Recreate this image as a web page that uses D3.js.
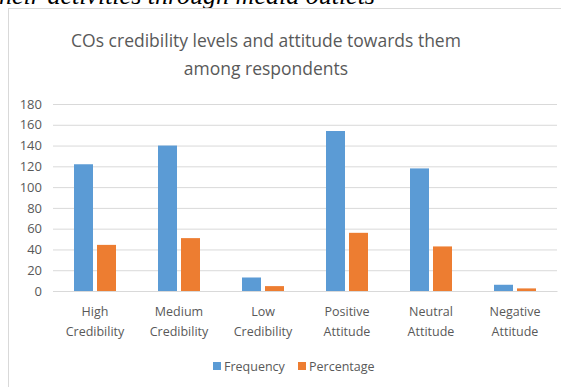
<!DOCTYPE html>
<html><head><meta charset="utf-8">
<script src="https://cdn.jsdelivr.net/npm/d3@7"></script>
<style>
html,body{margin:0;padding:0;background:#fff;}
svg{display:block;}
</style></head>
<body>
<svg id="chart" width="561" height="387"></svg>
<script>
const categories = [["High","Credibility"],["Medium","Credibility"],["Low","Credibility"],["Positive","Attitude"],["Neutral","Attitude"],["Negative","Attitude"]];
const seriesNames = ["Frequency","Percentage"];
const frequency = [122,140,13,154,118,6];
const percentage = [44.4,50.9,4.7,56,42.9,2.5];
const yTicks = [0,20,40,60,80,100,120,140,160,180];
const colors = ["#5B9BD5","#ED7D31"];
const titleLines = ["COs credibility levels and attitude towards them","among respondents"];

const svg = d3.select("#chart");
const font = "'Open Sans', sans-serif";

// cut-off document text above the chart
svg.append("text").attr("x",375).attr("y",4).attr("text-anchor","end")
  .attr("font-family","'Liberation Serif', serif").attr("font-style","italic")
  .attr("font-size",26).attr("fill","#000").text("their activities through media outlets");

// chart frame
svg.append("rect").attr("x",8.5).attr("y",8.5).attr("width",600).attr("height",400)
  .attr("fill","#fff").attr("stroke","#d9d9d9").attr("stroke-width",1);

// title
svg.append("g").selectAll("text").data(titleLines).join("text")
  .attr("x",266).attr("y",(d,i)=>47+i*28).attr("text-anchor","middle")
  .attr("font-family",font).attr("font-size",17.5).attr("fill","#595959").text(d=>d);

const L=53, R=557, T=104, B=291;
const x0 = d3.scaleBand().domain(d3.range(categories.length)).range([L,R]).paddingInner(0.5).paddingOuter(0.25);
const x1 = d3.scaleBand().domain(seriesNames).range([0,x0.bandwidth()]).paddingInner(0.174);
const y = d3.scaleLinear().domain([0,180]).range([B,T]);

// grid
const yAxis = d3.axisLeft(y).tickValues(yTicks).tickSize(-(R-L)).tickPadding(11);
const gy = svg.append("g").attr("transform",`translate(${L},0)`).call(yAxis);
gy.select(".domain").remove();
gy.selectAll(".tick line").attr("stroke","#d9d9d9").attr("stroke-width",1);
gy.selectAll(".tick text").attr("font-family",font).attr("font-size",13).attr("fill","#595959");

// bars
const data = categories.map((c,i)=>({i, vals:[frequency[i],percentage[i]]}));
const groups = svg.append("g").selectAll("g").data(data).join("g")
  .attr("transform",d=>`translate(${x0(d.i)},0)`);
groups.selectAll("rect").data(d=>d.vals.map((v,k)=>({k,v}))).join("rect")
  .attr("x",d=>x1(seriesNames[d.k])).attr("width",x1.bandwidth())
  .attr("y",d=>y(d.v)).attr("height",d=>y(0)-y(d.v)).attr("fill",d=>colors[d.k]);

// x axis
const xAxis = d3.axisBottom(x0).tickSize(0).tickFormat(()=>"");
const gx = svg.append("g").attr("transform",`translate(0,${B})`).call(xAxis);
gx.select(".domain").attr("stroke","#d9d9d9");
const xl = svg.append("g").selectAll("text").data(categories).join("text")
  .attr("x",(d,i)=>x0(i)+x0.bandwidth()/2).attr("y",316).attr("text-anchor","middle")
  .attr("font-family",font).attr("font-size",12.5).attr("fill","#595959");
xl.each(function(d){
  const t=d3.select(this);
  d.forEach((s,j)=>t.append("tspan").attr("x",t.attr("x")).attr("dy",j?20:0).text(s));
});

// legend
const legX = [213,298];
const lg = svg.append("g").selectAll("g").data(seriesNames).join("g")
  .attr("transform",(d,i)=>`translate(${legX[i]},362)`);
lg.append("rect").attr("width",8).attr("height",8).attr("fill",(d,i)=>colors[i]);
lg.append("text").attr("x",11).attr("y",8.5).attr("font-family",font).attr("font-size",12.5)
  .attr("fill","#595959").text(d=>d);
</script>
</body></html>
